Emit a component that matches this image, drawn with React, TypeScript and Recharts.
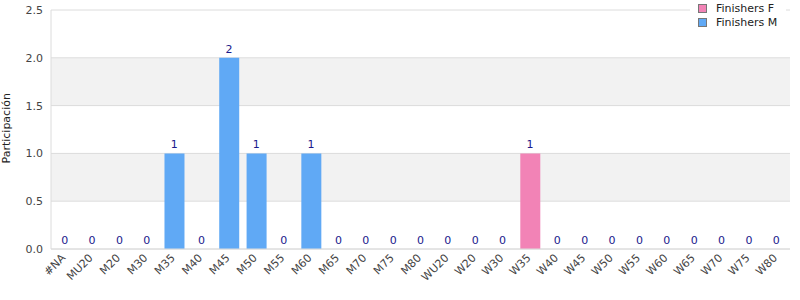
import React from "react";
import { ComposedChart, Bar, Line, XAxis, YAxis, CartesianGrid, LabelList } from "recharts";

const categories = [
  "#NA", "MU20", "M20", "M30", "M35", "M40", "M45", "M50", "M55", "M60", "M65", "M70", "M75", "M80",
  "WU20", "W20", "W30", "W35", "W40", "W45", "W50", "W55", "W60", "W65", "W70", "W75", "W80",
];
const finishersF = [0, 0, 0, 0, 0, 0, 0, 0, 0, 0, 0, 0, 0, 0, 0, 0, 0, 1, 0, 0, 0, 0, 0, 0, 0, 0, 0];
const finishersM = [0, 0, 0, 0, 1, 0, 2, 1, 0, 1, 0, 0, 0, 0, 0, 0, 0, 0, 0, 0, 0, 0, 0, 0, 0, 0, 0];
const yTicks = [0, 0.5, 1, 1.5, 2, 2.5];

const data = categories.map((c, i) => ({
  cat: c,
  F: finishersF[i],
  M: finishersM[i],
  total: finishersF[i] + finishersM[i],
}));

const FONT = "DejaVu Sans, sans-serif";

const legendItems = [
  { name: "Finishers F", color: "#f283b6" },
  { name: "Finishers M", color: "#60a9f5" },
];

function LegendBox() {
  return (
    <div
      style={{
        position: "absolute",
        top: 0,
        left: 690,
        width: 96,
        background: "#fff",
        padding: "1px 0 4px 8px",
        boxSizing: "border-box",
        fontFamily: FONT,
        fontSize: 11,
        color: "#222",
      }}
    >
      {legendItems.map((it) => (
        <div key={it.name} style={{ display: "flex", alignItems: "center", height: 14 }}>
          <span
            style={{
              display: "inline-block",
              width: 7,
              height: 7,
              background: it.color,
              border: "1px solid #777",
              marginRight: 9,
            }}
          />
          {it.name}
        </div>
      ))}
    </div>
  );
}

export default function App() {
  return (
    <div style={{ position: "absolute", left: 0, top: 0, width: 800, height: 300, background: "#fff" }}>
      <ComposedChart
        width={800}
        height={300}
        data={data}
        margin={{ top: 10, right: 10, left: 11, bottom: 0 }}
        barCategoryGap={0}
      >
        <CartesianGrid
          vertical={false}
          stroke="#dcdcdc"
          horizontalFill={["#ffffff", "#f2f2f2"]}
          fillOpacity={1}
        />
        <XAxis
          dataKey="cat"
          interval={0}
          angle={-45}
          textAnchor="end"
          height={51}
          tickLine={false}
          axisLine={{ stroke: "#dcdcdc" }}
          tick={{ fontSize: 11, fill: "#444", fontFamily: FONT, dx: -4, dy: -4 }}
        />
        <YAxis
          domain={[0, 2.5]}
          ticks={yTicks}
          tickFormatter={(v) => Number(v).toFixed(1)}
          width={40}
          tickLine={false}
          axisLine={{ stroke: "#dcdcdc" }}
          tick={{ fontSize: 11, fill: "#444", fontFamily: FONT }}
          label={{
            value: "Participación",
            angle: -90,
            position: "insideLeft",
            dx: -10,
            dy: 34,
            style: { fontSize: 11, fill: "#222", fontFamily: FONT },
          }}
        />
        <YAxis
          yAxisId="right"
          orientation="right"
          domain={[0, 2.5]}
          width={0}
          tick={false}
          tickLine={false}
          axisLine={{ stroke: "#dcdcdc" }}
        />
        <Bar dataKey="F" name="Finishers F" stackId="a" fill="#f283b6" barSize={20} isAnimationActive={false} />
        <Bar dataKey="M" name="Finishers M" stackId="a" fill="#60a9f5" barSize={20} isAnimationActive={false} />
        <Line
          dataKey="total"
          stroke="none"
          dot={false}
          activeDot={false}
          legendType="none"
          isAnimationActive={false}
        >
          <LabelList
            dataKey="total"
            position="top"
            offset={5}
            style={{ fontSize: 11, fill: "#1a1a8c", fontFamily: FONT }}
          />
        </Line>
      </ComposedChart>
      <LegendBox />
    </div>
  );
}
